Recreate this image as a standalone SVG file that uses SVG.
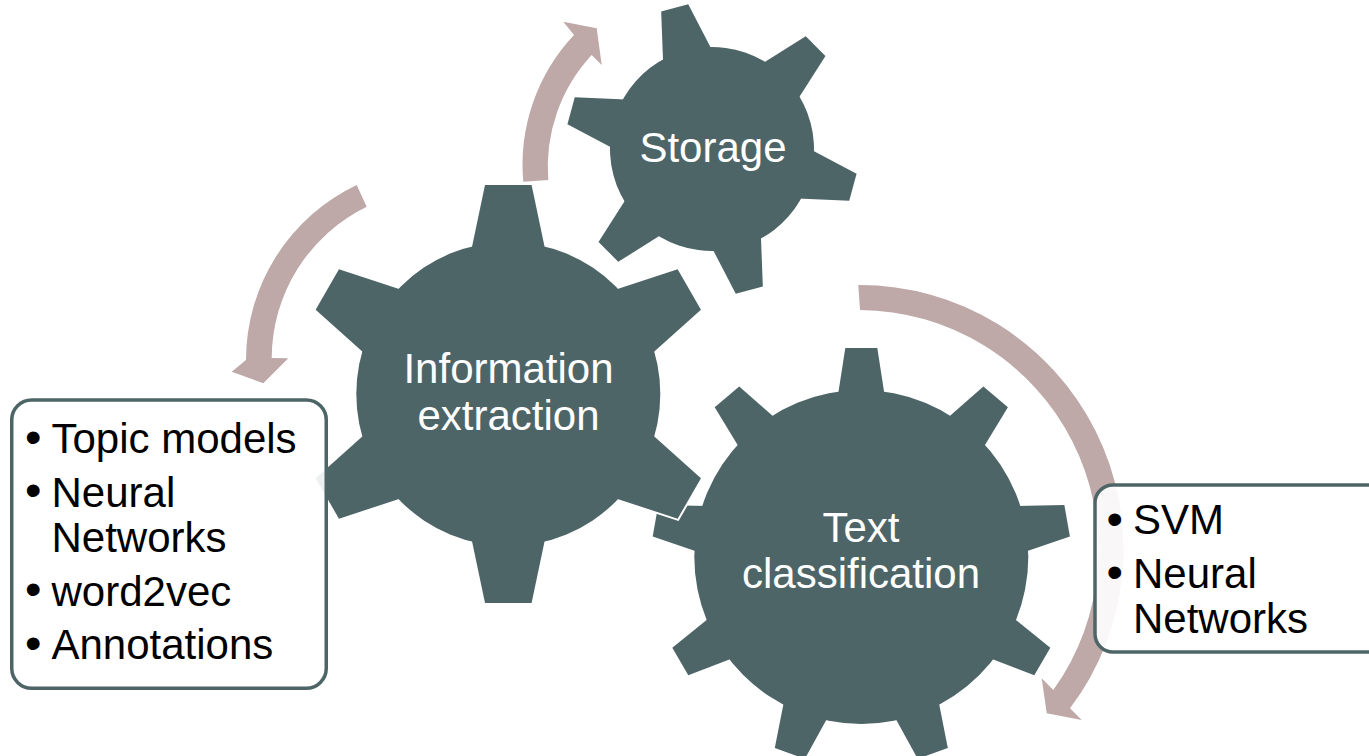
<svg xmlns="http://www.w3.org/2000/svg" xmlns:xlink="http://www.w3.org/1999/xlink" width="1369" height="756" viewBox="0 0 1369 756">
<style>
  .halo{fill:#ffffff;stroke:#ffffff;stroke-width:4;stroke-linejoin:miter}
  .gear{fill:#4e6568;stroke:none}
  .arrow{fill:#bea8a8;stroke:none}
  .box{fill:#ffffff;fill-opacity:0.9;stroke:#4e6568;stroke-width:3.5}
  .gt{font-family:"Liberation Sans",Arial,sans-serif;font-size:42px;fill:#ffffff;text-anchor:middle}
  .bt{font-family:"Liberation Sans",Arial,sans-serif;font-size:42px;fill:#000000}
  .bl{font-family:"Liberation Sans",Arial,sans-serif;font-size:47px;fill:#000000}
</style>
<defs>
  <g id="gearA">
    <circle r="152"/>
    <polygon id="tA" points="-39,-120 -37.8,-140 -23.3,-209 23.3,-209 37.8,-140 39,-120"/>
    <use href="#tA" transform="rotate(60)"/>
    <use href="#tA" transform="rotate(120)"/>
    <use href="#tA" transform="rotate(180)"/>
    <use href="#tA" transform="rotate(240)"/>
    <use href="#tA" transform="rotate(300)"/>
  </g>
  <g id="gearB">
    <circle r="102"/>
    <polygon id="tB" points="-26,-85 -25.2,-96 -14,-146 14,-146 25.2,-96 26,-85"/>
    <use href="#tB" transform="rotate(60)"/>
    <use href="#tB" transform="rotate(120)"/>
    <use href="#tB" transform="rotate(180)"/>
    <use href="#tB" transform="rotate(240)"/>
    <use href="#tB" transform="rotate(300)"/>
  </g>
  <g id="gearC">
    <circle r="167"/>
    <polygon id="tC" points="-25,-140 -23.6,-160 -16,-209 16,-209 23.6,-160 25,-140"/>
    <use href="#tC" transform="rotate(40)"/>
    <use href="#tC" transform="rotate(80)"/>
    <use href="#tC" transform="rotate(120)"/>
    <use href="#tC" transform="rotate(160)"/>
    <use href="#tC" transform="rotate(200)"/>
    <use href="#tC" transform="rotate(240)"/>
    <use href="#tC" transform="rotate(280)"/>
    <use href="#tC" transform="rotate(320)"/>
  </g>
</defs>

<g id="connectors">
  <path class="arrow" d="M356.7,185 A194,194 0 0 0 246,360 L231.7,371.7 L263.3,383.3 L288.3,358.3 L271.7,358 A169,169 0 0 1 366.7,206.7 Z"/>
  <path class="arrow" d="M523.3,181.7 A189,189 0 0 1 574,35 L563.3,21.7 L596.7,28.3 L601.7,65 L591.7,55 A164,164 0 0 0 548.3,180 Z"/>
  <path class="arrow" d="M858.3,285 A264,264 0 0 1 1070,708.3 L1081.7,720 L1046.7,713.3 L1041.7,678.3 L1053.3,690 A240,240 0 0 0 860,310 Z"/>
</g>

<g id="node-text-classification">
  <use href="#gearC" class="halo" transform="translate(861.3,557)"/>
  <use href="#gearC" class="gear" transform="translate(861.3,557)"/>
  <text class="gt" x="861" y="542">Text</text>
  <text class="gt" x="861" y="588">classification</text>
</g>

<g id="node-storage">
  <use href="#gearB" class="halo" transform="translate(712,149) rotate(-14.8)"/>
  <use href="#gearB" class="gear" transform="translate(712,149) rotate(-14.8)"/>
  <text class="gt" x="713" y="162">Storage</text>
</g>

<g id="node-information-extraction">
  <use href="#gearA" class="halo" transform="translate(508.3,394)"/>
  <use href="#gearA" class="gear" transform="translate(508.3,394)"/>
  <text class="gt" x="508.5" y="383">Information</text>
  <text class="gt" x="508.5" y="430">extraction</text>
</g>

<g id="node-left-list">
  <rect class="box" x="11.75" y="400" width="314.5" height="288.25" rx="20" ry="20"/>
  <text class="bl" x="25" y="452.5">•</text>
  <text class="bt" x="51.5" y="453">Topic models</text>
  <text class="bl" x="25" y="506">•</text>
  <text class="bt" x="51.5" y="506.5">Neural</text>
  <text class="bt" x="51.5" y="552">Networks</text>
  <text class="bl" x="25" y="605">•</text>
  <text class="bt" x="51.5" y="605.5">word2vec</text>
  <text class="bl" x="25" y="658.5">•</text>
  <text class="bt" x="51.5" y="659">Annotations</text>
</g>

<g id="node-right-list">
  <rect class="box" x="1095" y="485" width="300" height="167" rx="18" ry="18"/>
  <text class="bl" x="1106.6" y="535">•</text>
  <text class="bt" x="1133" y="534">SVM</text>
  <text class="bl" x="1106.6" y="588">•</text>
  <text class="bt" x="1133" y="587.5">Neural</text>
  <text class="bt" x="1133" y="633">Networks</text>
</g>
</svg>
